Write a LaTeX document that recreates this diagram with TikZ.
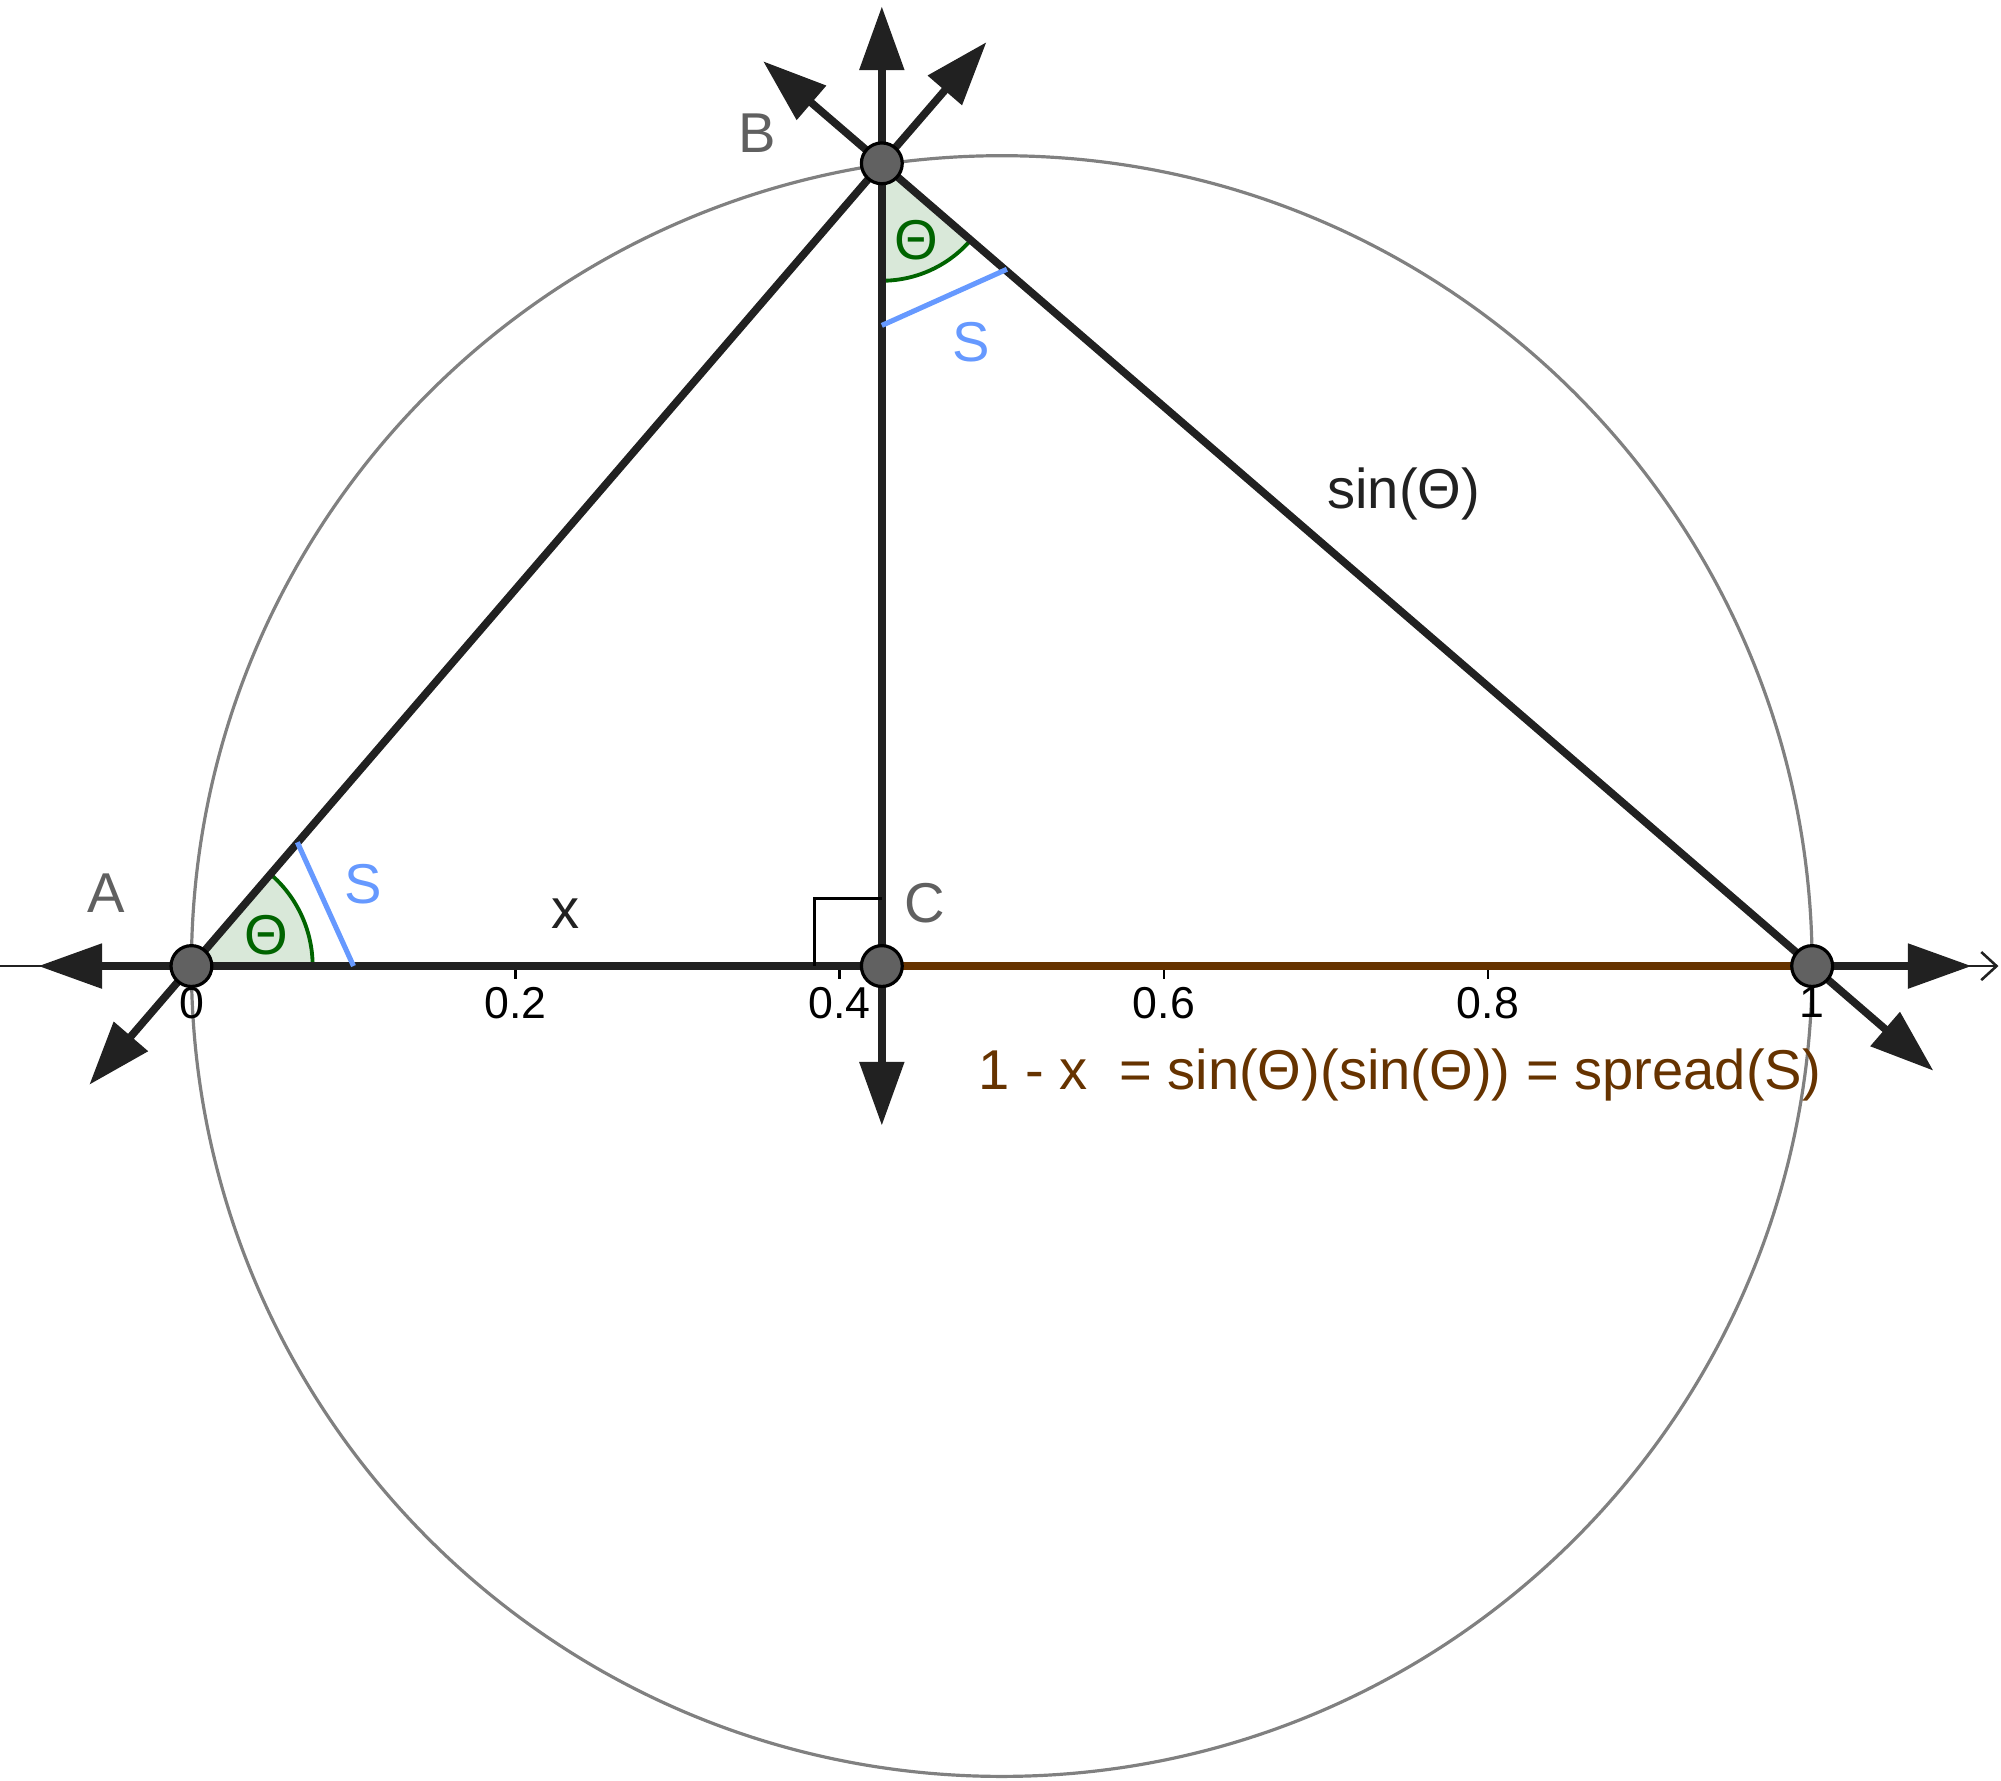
\documentclass[tikz,border=0pt]{standalone}
\usepackage{fontspec}
\setmainfont{Liberation Sans}
\usetikzlibrary{arrows.meta}
\definecolor{ptfill}{RGB}{97,97,97}
\definecolor{lbl}{RGB}{96,96,96}
\definecolor{brn}{RGB}{102,51,0}
\definecolor{ang}{RGB}{0,100,0}
\definecolor{sblue}{RGB}{102,153,255}
\definecolor{dk}{RGB}{33,33,33}
\begin{document}
\begin{tikzpicture}[x=1pt,y=-1pt,
  thk/.style={line width=6pt,dk},
  tip/.style={-{Triangle[length=50pt,width=34pt]}},
  pt/.style={circle,fill=ptfill,draw=black,line width=2.5pt,minimum size=32pt,inner sep=0pt},
  big/.style={font=\fontsize{44}{46}\selectfont},
  tick/.style={font=\fontsize{35}{37}\selectfont,anchor=north},
  ]
\useasboundingbox (0,0) rectangle (1568,1395);
\coordinate (A) at (150,757);
\coordinate (B) at (691,128);
\coordinate (C) at (691,757);
\coordinate (D) at (1420,757);
% circle
\draw[line width=2.5pt,gray] (785,757) circle[radius=635];
% angle wedges
\fill[ang!15] (A) -- ++(0:95) arc[start angle=0,end angle=-49.3,radius=95] -- cycle;
\draw[ang,line width=3pt] (A) ++(0:95) arc[start angle=0,end angle=-49.3,radius=95];
\fill[ang!15] (B) -- ++(90:92) arc[start angle=90,end angle=40.8,radius=92] -- cycle;
\draw[ang,line width=3pt] (B) ++(90:92) arc[start angle=90,end angle=40.8,radius=92];
% axis
\draw[line width=2pt,dk,-{Straight Barb[length=12pt,width=22pt]}] (0,757) -- (1566,757);
\foreach \x/\t in {150/0,404/0.2,658/0.4,912/0.6,1166/0.8,1420/1}{
  \draw[line width=2pt] (\x,757) -- (\x,767);
  \node[tick] at (\x,770) {\t};
}
% lines
\draw[thk,tip] (C) -- (30,757);
\draw[thk,tip] (D) -- (1545,757);
\draw[thk,tip] (A) -- (70,850);
\draw[thk,tip] (B) -- (773,33);
\draw[thk,tip] (B) -- (598,48);
\draw[thk,tip] (D) -- (1515,839);
\draw[thk,tip] (B) -- (691,5);
\draw[thk,tip] (C) -- (691,882);
\draw[thk] (A) -- (B) -- (D);
\draw[thk] (B) -- (C);
\draw[thk] (A) -- (C);
\draw[line width=6pt,brn] (C) -- (D);
% right angle
\draw[line width=2.5pt] (691,704) -- (638,704) -- (638,757);
% S segments
\coordinate (s1) at (233,660); \coordinate (s2) at (277,757);
\coordinate (s3) at (691,255); \coordinate (s4) at (789,211);
\draw[sblue,line width=4pt] (s1) -- (s2);
\draw[sblue,line width=4pt] (s3) -- (s4);
% points
\node[pt] (pA) at (A) {};
\node[pt] (pB) at (B) {};
\node[pt] (pC) at (C) {};
\node[pt] (pD) at (D) {};
% labels
\node[big,lbl] (lA) at (83,700) {A};
\node[big,lbl] (lB) at (593,104) {B};
\node[big,lbl] (lC) at (725,708) {C};
\node[big,dk] (lx) at (443,716) {x};
\node[big,dk] (lsin) at (1100,387) {sin(Θ)};
\node[big,sblue] (lS1) at (285,693) {S};
\node[big,sblue] (lS2) at (761,268) {S};
\node[big,ang] (t1) at (209,733) {Θ};
\node[big,ang] (t2) at (718,188) {Θ};
\node[big,brn] (eq) at (1097,842) {1 - x \ = sin(Θ)(sin(Θ)) = spread(S)};
\end{tikzpicture}
\end{document}
